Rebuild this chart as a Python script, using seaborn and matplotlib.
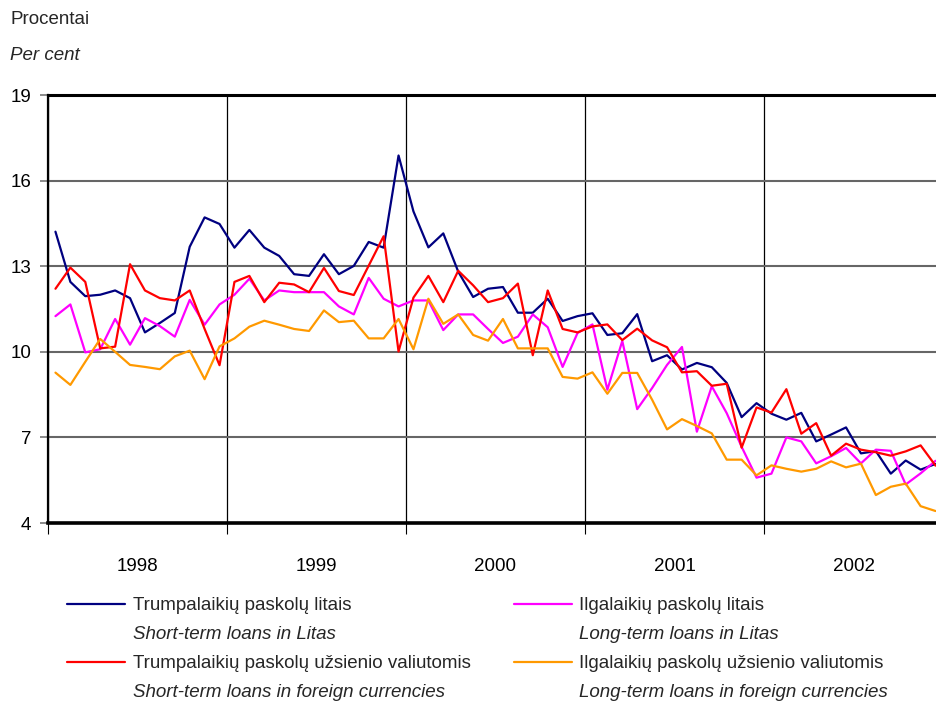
import numpy as np
import pandas as pd
import matplotlib
matplotlib.use('Agg')
import matplotlib.pyplot as plt
import seaborn as sns

# 1. Data (monthly, Jan 1998 - Dec 2002)
years = ['1998', '1999', '2000', '2001', '2002']
names = ['Trumpalaikių paskolų litais',
         'Ilgalaikių paskolų litais',
         'Trumpalaikių paskolų užsienio valiutomis',
         'Ilgalaikių paskolų užsienio valiutomis']
names_en = ['Short-term loans in Litas',
            'Long-term loans in Litas',
            'Short-term loans in foreign currencies',
            'Long-term loans in foreign currencies']
colors = ['#000080', '#FF00FF', '#FF0000', '#FF9900']

short_litas = [14.21, 12.45, 11.95, 12.0, 12.15, 11.88, 10.68, 11.01, 11.36, 13.68, 14.71, 14.48,
               13.65, 14.27, 13.65, 13.36, 12.72, 12.66, 13.42, 12.72, 13.01, 13.85, 13.65, 16.88,
               14.92, 13.66, 14.15, 12.81, 11.92, 12.21, 12.27, 11.37, 11.37, 11.86, 11.08, 11.25,
               11.35, 10.59, 10.65, 11.32, 9.67, 9.88, 9.38, 9.61, 9.46, 8.91, 7.71, 8.2,
               7.83, 7.62, 7.86, 6.86, 7.1, 7.35, 6.44, 6.52, 5.73, 6.19, 5.87, 6.07]
long_litas = [11.25, 11.66, 9.98, 10.09, 11.15, 10.25, 11.18, 10.9, 10.53, 11.82, 10.95, 11.66,
              12.0, 12.56, 11.8, 12.15, 12.09, 12.09, 12.09, 11.59, 11.31, 12.59, 11.86, 11.59,
              11.8, 11.8, 10.76, 11.31, 11.31, 10.8, 10.31, 10.53, 11.31, 10.86, 9.47, 10.66,
              10.96, 8.67, 10.38, 7.99, 8.73, 9.54, 10.17, 7.2, 8.79, 7.85, 6.67, 5.59,
              5.73, 7.0, 6.86, 6.09, 6.34, 6.63, 6.09, 6.57, 6.53, 5.35, 5.74, 6.18]
short_foreign = [12.21, 12.95, 12.45, 10.12, 10.18, 13.07, 12.15, 11.88, 11.8, 12.15, 10.8, 9.53,
                 12.45, 12.66, 11.74, 12.42, 12.36, 12.09, 12.94, 12.13, 11.99, 13.02, 14.05, 10.01,
                 11.9, 12.66, 11.74, 12.84, 12.33, 11.74, 11.88, 12.39, 9.88, 12.15, 10.8, 10.68,
                 10.89, 10.96, 10.41, 10.81, 10.4, 10.16, 9.28, 9.32, 8.81, 8.88, 6.64, 8.05,
                 7.87, 8.69, 7.13, 7.5, 6.36, 6.78, 6.57, 6.48, 6.36, 6.51, 6.72, 6.01]
long_foreign = [9.27, 8.84, 9.65, 10.45, 10.0, 9.54, 9.47, 9.39, 9.84, 10.04, 9.04, 10.19,
                10.47, 10.88, 11.09, 10.95, 10.8, 10.73, 11.45, 11.04, 11.09, 10.47, 10.47, 11.15,
                10.09, 11.86, 10.98, 11.31, 10.59, 10.39, 11.15, 10.12, 10.12, 10.12, 9.12, 9.06,
                9.28, 8.53, 9.26, 9.26, 8.32, 7.28, 7.64, 7.4, 7.14, 6.22, 6.22, 5.67,
                6.02, 5.9, 5.8, 5.9, 6.16, 5.95, 6.08, 4.98, 5.27, 5.38, 4.59, 4.42]

months = np.arange(len(short_litas))
df = pd.DataFrame({
    'month': np.tile(months, 4),
    'value': np.concatenate([short_litas, long_litas, short_foreign, long_foreign]),
    'series': np.repeat(names, len(months)),
})

# 2. Style
sns.set_theme(style='white')
plt.rcParams['font.family'] = ['Liberation Sans', 'DejaVu Sans']
fs = 13.5

fig = plt.figure(figsize=(9.36, 7.04), dpi=100)
ax = fig.add_axes([48 / 936, 181 / 704, 895 / 936, 428 / 704])

sns.lineplot(data=df, x='month', y='value', hue='series', hue_order=names,
             palette=colors, linewidth=1.6, legend=False, ax=ax)

# 3. Axes
ax.set_xlim(-0.5, 59.5)
ax.set_ylim(4, 19)
ax.set_yticks([4, 7, 10, 13, 16, 19])
ax.set_yticklabels(['4', '7', '10', '13', '16', '19'], fontsize=fs, color='black')
ax.set_xticks(np.arange(-0.5, 60, 12))
ax.set_xticklabels([])
ax.set_xticks(np.arange(5.5, 60, 12), minor=True)
ax.set_xticklabels(years, minor=True, fontsize=fs, color='black')
ax.tick_params(axis='x', which='major', bottom=True, length=8, width=0.8,
               color='black', direction='out')
ax.tick_params(axis='x', which='minor', bottom=True, length=0, pad=25)
ax.tick_params(axis='y', left=True, length=6, width=1.2, color='#777777',
               direction='out', pad=6)
ax.set_xlabel('')
ax.set_ylabel('')

ax.yaxis.grid(True, color='#666666', linewidth=1.5)
ax.xaxis.grid(True, which='major', color='black', linewidth=0.9)
ax.set_axisbelow(True)

for side, lw in [('top', 2.2), ('left', 1.6), ('bottom', 2.6)]:
    ax.spines[side].set_color('black')
    ax.spines[side].set_linewidth(lw)
ax.spines['right'].set_visible(False)

# 4. Labels
fig.text(10 / 936, 1 - 20 / 704, 'Procentai', fontsize=fs, va='center', ha='left')
fig.text(10 / 936, 1 - 55 / 704, 'Per cent', fontsize=fs, va='center', ha='left',
         fontstyle='italic')

# 5. Legend (two columns, Lithuanian + English italic under each)
lines = ax.get_lines()[:4]
order = [0, 2, 1, 3]
leg = fig.legend([lines[i] for i in order], [names[i] for i in order],
                 loc='upper left', bbox_to_anchor=(67 / 936, 1 - 597 / 704),
                 ncol=2, frameon=False, fontsize=fs, handlelength=3.1,
                 handletextpad=0.4, labelspacing=2.2, columnspacing=2.3,
                 borderpad=0, borderaxespad=0)
leg.set_zorder(4)
for i, t in zip(order, leg.get_texts()):
    ann = plt.Annotation(names_en[i], xy=(0, 0.5), xycoords=t,
                         xytext=(0, -20.5), textcoords='offset points',
                         va='center', ha='left', fontsize=fs,
                         fontstyle='italic')
    ann.set_zorder(10)
    fig.add_artist(ann)

fig.savefig('out.png', dpi=100)
